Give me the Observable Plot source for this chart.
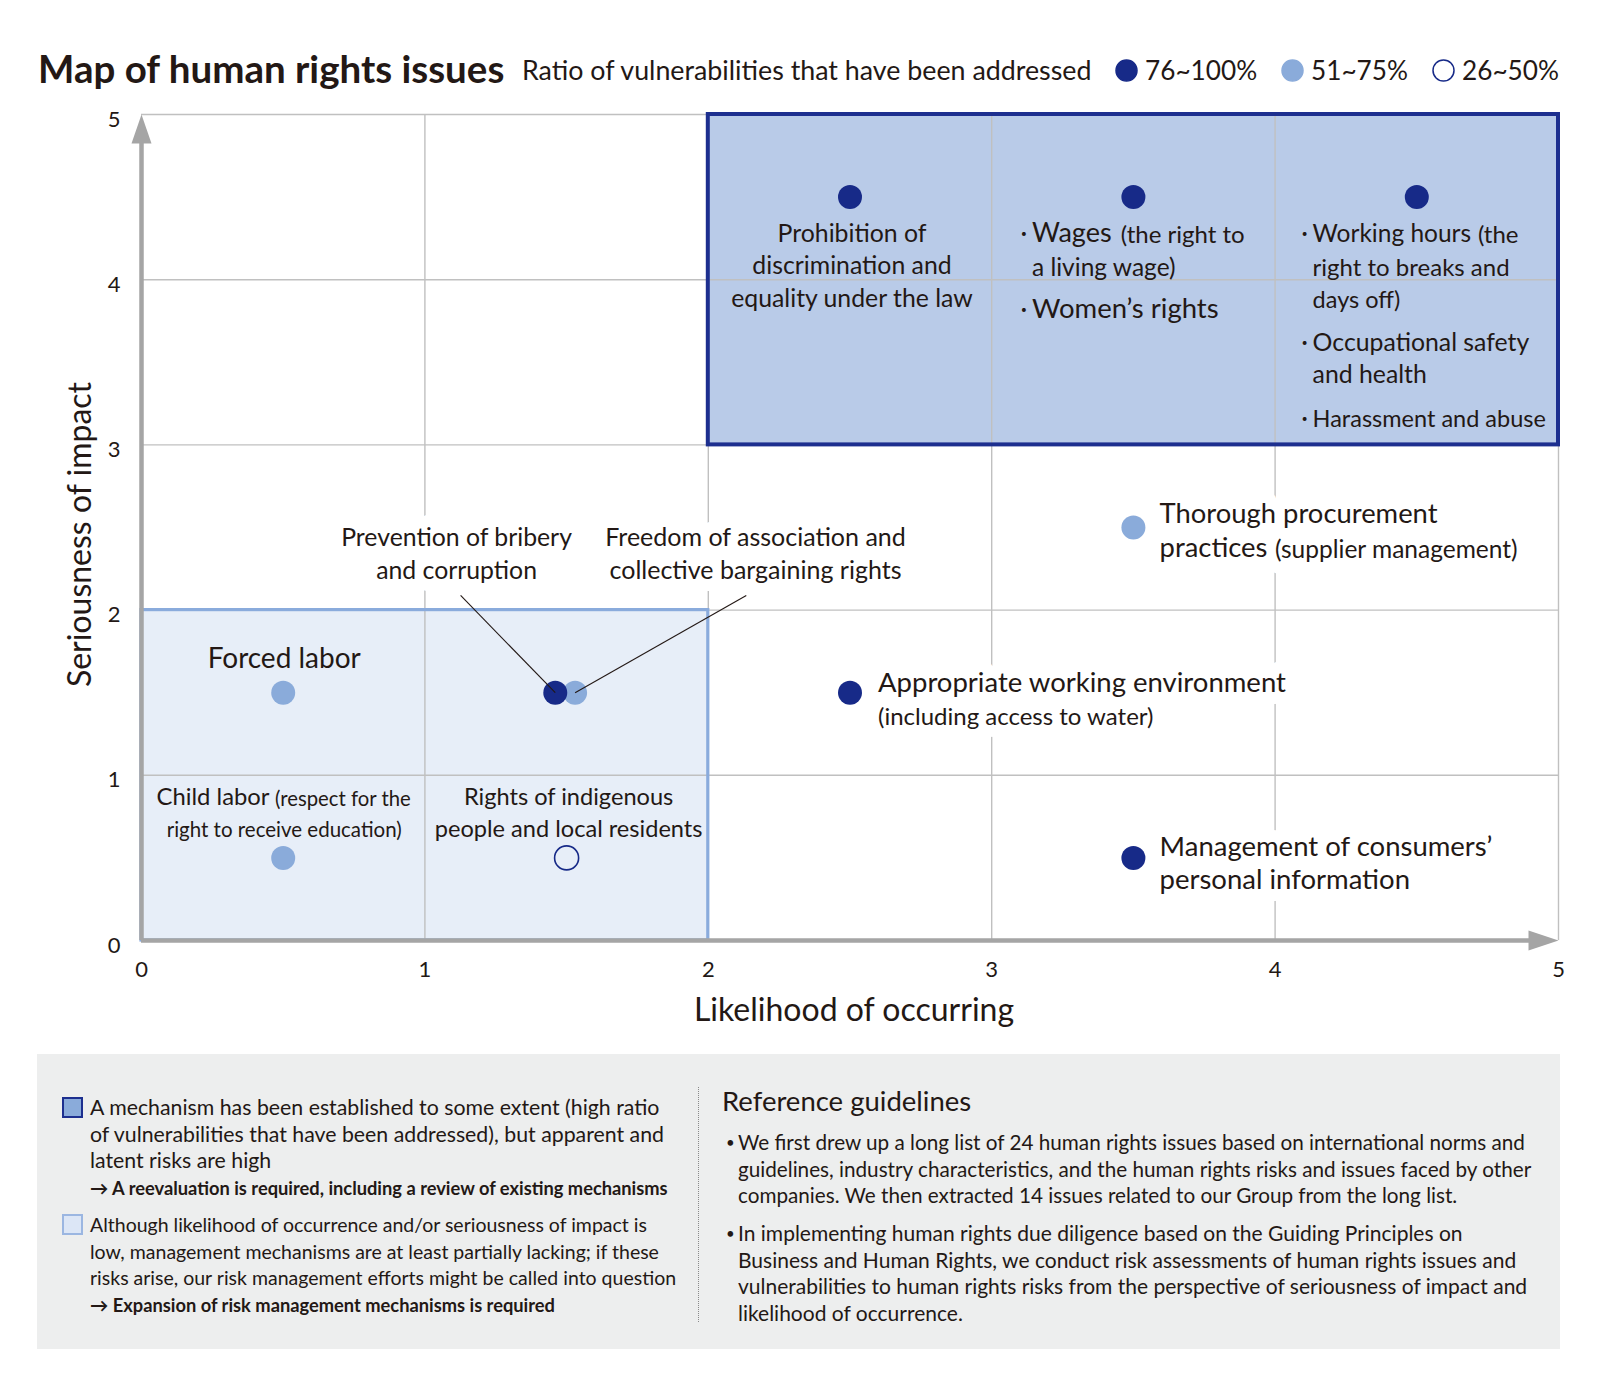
<!DOCTYPE html>
<html>
<head>
<meta charset="utf-8">
<script src="https://cdn.jsdelivr.net/npm/d3@7"></script>
<script src="https://cdn.jsdelivr.net/npm/@observablehq/plot@0.6"></script>
<style>
  html,body{margin:0;padding:0;background:#fff;}
  body{font-family:Lato,"Noto Sans",sans-serif;color:#231815;}
  #page{position:relative;width:1600px;height:1400px;overflow:hidden;}
  .abs{position:absolute;white-space:nowrap;}
  #title{left:38px;top:45px;font-size:38.5px;font-weight:700;line-height:46px;}
  #subtitle{left:522px;top:55px;font-size:26.8px;line-height:30px;}
  .leg{position:absolute;top:55px;height:30px;font-size:26.2px;line-height:30px;white-space:nowrap;display:flex;align-items:center;}
  .leg svg{margin-right:7px;}
  #chart{position:absolute;left:0;top:100px;}
  #panel{position:absolute;left:37px;top:1054px;width:1523px;height:295px;background:#edeeee;}
  .sq{position:absolute;width:17px;height:17px;}
  .ptext{position:absolute;line-height:26.5px;white-space:nowrap;}
  .ptext .arr{font-size:18.3px;font-weight:700;}
  #divider{position:absolute;left:661px;top:33px;height:235px;border-left:1.5px dotted #8a8a8a;}
  #refhead{position:absolute;left:685px;top:32px;font-size:27.5px;line-height:30px;white-space:nowrap;}
  .bul{position:absolute;font-size:15px;line-height:26.5px;}
</style>
</head>
<body>
<div id="page">
  <div id="title" class="abs"></div>
  <div id="subtitle" class="abs"></div>
  <div id="legend"></div>
  <div id="chart"></div>
  <div id="panel">
    <div class="sq" style="left:25px;top:43px;background:#8aabda;border:2.5px solid #1d2f8f;"></div>
    <div class="ptext" style="left:53px;top:40px;font-size:21.3px;">A mechanism has been established to some extent (high ratio<br>of vulnerabilities that have been addressed), but apparent and<br>latent risks are high<br><span class="arr">→ A reevaluation is required, including a review of existing mechanisms</span></div>
    <div class="sq" style="left:25px;top:160px;background:#dce6f6;border:2.5px solid #9bb6e1;"></div>
    <div class="ptext" style="left:53px;top:158px;font-size:19.5px;">Although likelihood of occurrence and/or seriousness of impact is<br>low, management mechanisms are at least partially lacking; if these<br>risks arise, our risk management efforts might be called into question<br><span class="arr">→ Expansion of risk management mechanisms is required</span></div>
    <div id="divider"></div>
    <div id="refhead">Reference guidelines</div>
    <div class="bul" style="left:689px;top:75px;">•</div>
    <div class="ptext" style="left:701px;top:75px;font-size:20.7px;">We first drew up a long list of 24 human rights issues based on international norms and<br>guidelines, industry characteristics, and the human rights risks and issues faced by other<br>companies. We then extracted 14 issues related to our Group from the long list.</div>
    <div class="bul" style="left:689px;top:166px;">•</div>
    <div class="ptext" style="left:701px;top:166px;font-size:21px;">In implementing human rights due diligence based on the Guiding Principles on<br>Business and Human Rights, we conduct risk assessments of human rights issues and<br>vulnerabilities to human rights risks from the perspective of seriousness of impact and<br>likelihood of occurrence.</div>
  </div>
</div>
<script>
// ---------- data ----------
const chartTitle = "Map of human rights issues";
const legendTitle = "Ratio of vulnerabilities that have been addressed";
const ratioLevels = ["76~100%", "51~75%", "26~50%"];

const issueNames = [
  "Prohibition of discrimination and equality under the law",
  "Wages (the right to a living wage) / Women’s rights",
  "Working hours / Occupational safety and health / Harassment and abuse",
  "Thorough procurement practices (supplier management)",
  "Appropriate working environment (including access to water)",
  "Management of consumers’ personal information",
  "Forced labor",
  "Child labor (respect for the right to receive education)",
  "Freedom of association and collective bargaining rights",
  "Prevention of bribery and corruption",
  "Rights of indigenous people and local residents"
];
const likelihood  = [2.5, 3.5, 4.5, 3.5, 2.5, 3.5, 0.5, 0.5, 1.53, 1.46, 1.5];
const seriousness = [4.5, 4.5, 4.5, 2.5, 1.5, 0.5, 1.5, 0.5, 1.5, 1.5, 0.5];
const addressedRatio = ["76~100%", "76~100%", "76~100%", "51~75%", "76~100%", "76~100%",
                        "51~75%", "51~75%", "51~75%", "76~100%", "26~50%"];

const xTicks = [0, 1, 2, 3, 4, 5];
const yTicks = [0, 1, 2, 3, 4, 5];
const xTitle = "Likelihood of occurring";
const yTitle = "Seriousness of impact";

// priority zones: [likelihood from, to], [seriousness from, to]
const zoneX1 = [2, 0];
const zoneX2 = [5, 2];
const zoneY1 = [3, 0];
const zoneY2 = [5, 2];

// ---------- styles ----------
const ink = "#231815";
const navy = "#172a88";
const lightBlue = "#8aabda";
const gridGray = "#c0c0c0";
const axisGray = "#a5a5a5";
const zoneFill = ["#b9cbe8", "#e7eef8"];
const zoneStroke = ["#1d2f8f", "#8aabdc"];
const zoneStrokeWidth = [4, 3.2];
const levelFill = {"76~100%": navy, "51~75%": lightBlue, "26~50%": "none"};
const levelStroke = {"76~100%": "none", "51~75%": "none", "26~50%": navy};

// ---------- header ----------
document.getElementById("title").textContent = chartTitle;
document.getElementById("subtitle").textContent = legendTitle;
const legendLeft = [1115, 1281, 1432];
const legendDiv = document.getElementById("legend");
ratioLevels.forEach((lv, k) => {
  const d = document.createElement("div");
  d.className = "leg";
  d.style.left = legendLeft[k] + "px";
  const f = levelFill[lv] === "none" ? "white" : levelFill[lv];
  const s = levelStroke[lv] === "none" ? f : levelStroke[lv];
  d.innerHTML = `<svg width="23" height="23"><circle cx="11.5" cy="11.5" r="10.5" fill="${f}" stroke="${s}" stroke-width="1.5"/></svg><span>${lv}</span>`;
  legendDiv.appendChild(d);
});

// ---------- label layout (pixel offsets from each dot) ----------
const LH = 32.6;
const pieces = [
  // [issue, text, dx, dy, size, anchor, halo]
  [0, "Prohibition of\ndiscrimination and\nequality under the law", 2, 66.7, 24.8, "middle", false],
  [1, "·", -113, 34, 26, "start", false],
  [1, "Wages", -101.4, 34, 27, "start", false],
  [1, "(the right to", -12.6, 35.5, 24, "start", false],
  [1, "a living wage)", -101.4, 68.2, 24.5, "start", false],
  [1, "·", -113, 110.5, 26, "start", false],
  [1, "Women’s rights", -101.4, 110.5, 27.5, "start", false],
  [2, "·", -115.5, 34, 26, "start", false],
  [2, "Working hours", -104.2, 34, 24.5, "start", false],
  [2, "(the", 61.1, 35.5, 24, "start", false],
  [2, "right to breaks and", -104.2, 68.2, 24, "start", false],
  [2, "days off)", -104.2, 100.8, 23.5, "start", false],
  [2, "·", -115.5, 143.2, 26, "start", false],
  [2, "Occupational safety", -104.2, 143.2, 24.8, "start", false],
  [2, "and health", -104.2, 175.8, 24.8, "start", false],
  [2, "·", -115.5, 219.7, 26, "start", false],
  [2, "Harassment and abuse", -104.2, 219.7, 23.5, "start", false],
  [3, "Thorough procurement", 26.2, -15.1, 27.4, "start", true],
  [3, "practices", 26.2, 18.6, 27.4, "start", true],
  [3, "(supplier management)", 141.5, 20, 24.5, "start", true],
  [4, "Appropriate working environment", 28, -11.6, 27.5, "start", true],
  [4, "(including access to water)", 28, 22.1, 24, "start", true],
  [5, "Management of consumers’", 26.2, -12.5, 27.5, "start", true],
  [5, "personal information", 26.2, 20.2, 27.5, "start", true],
  [6, "Forced labor", 1, -35.1, 28, "middle", false],
  [7, "Child labor", -126.6, -63.5, 23.8, "start", false],
  [7, "(respect for the", 127.5, -62, 20.3, "end", false],
  [7, "right to receive education)", 1, -30.9, 20.5, "middle", false],
  [10, "Rights of indigenous\npeople and local residents", 2, -47.2, 23.6, "middle", false],
  [9, "Prevention of bribery\nand corruption", -98.7, -140.7, 24.8, "middle", true],
  [8, "Freedom of association and\ncollective bargaining rights", 180.4, -140.7, 25, "middle", true]
];
// leader lines (offsets in data units from the dot)
const calloutOffset = {9: [-0.334, 0.589], 8: [0.604, 0.589]};

const idx = d3.range(issueNames.length);
const zones = d3.range(zoneX1.length);
const xMax = xTicks[xTicks.length - 1], yMax = yTicks[yTicks.length - 1];

const marks = [
  Plot.rect(zones, {x1: i => zoneX1[i], x2: i => zoneX2[i], y1: i => zoneY1[i], y2: i => zoneY2[i],
    fill: i => zoneFill[i], inset: 0}),
  Plot.ruleX(xTicks.slice(1), {y1: yTicks[0], y2: yMax, stroke: gridGray, strokeWidth: 1.4}),
  Plot.ruleY(yTicks.slice(1), {x1: xTicks[0], x2: xMax, stroke: gridGray, strokeWidth: 1.4}),
  Plot.rect(zones, {x1: i => zoneX1[i], x2: i => zoneX2[i], y1: i => zoneY1[i], y2: i => zoneY2[i],
    fill: "none", stroke: i => zoneStroke[i], strokeWidth: i => zoneStrokeWidth[i], inset: 0}),
];
// axis lines with arrowheads
marks.push(
  Plot.ruleY([yTicks[0]], {x1: xTicks[0], x2: xMax - 0.05, stroke: axisGray, strokeWidth: 4.5}),
  Plot.ruleX([xTicks[0]], {y1: yTicks[0], y2: yMax - 0.08, stroke: axisGray, strokeWidth: 4.5}),
  Plot.vector([[xMax, yTicks[0]]], {x: d => d[0], y: d => d[1], rotate: 90, length: 30, r: 10,
    anchor: "end", shape: "spike", fill: axisGray, stroke: "none"}),
  Plot.vector([[xTicks[0], yMax]], {x: d => d[0], y: d => d[1], rotate: 0, length: 29, r: 10,
    anchor: "end", shape: "spike", fill: axisGray, stroke: "none"})
);
// label halos first (white knock-out of grid lines), then label texts
const labelOpts = ([i, t, dx, dy, size, anchor]) => ({
  x: k => likelihood[k], y: k => seriousness[k], text: () => t,
  dx, dy, fontSize: size, textAnchor: anchor, lineAnchor: "middle", lineHeight: LH / size
});
for (const p of pieces.filter(p => p[6])) {
  marks.push(Plot.text([p[0]], {...labelOpts(p), fill: "white", stroke: "white", strokeWidth: 24, strokeLinejoin: "round"}));
}
for (const p of pieces) {
  marks.push(Plot.text([p[0]], {...labelOpts(p), fill: ink}));
}
// dots
marks.push(
  Plot.dot(idx, {x: i => likelihood[i], y: i => seriousness[i], r: 12,
    fill: i => levelFill[addressedRatio[i]], stroke: i => levelStroke[addressedRatio[i]], strokeWidth: 1.6})
);
// leader lines
const callouts = Object.keys(calloutOffset).map(Number);
marks.push(
  Plot.link(callouts, {x1: i => likelihood[i], y1: i => seriousness[i],
    x2: i => likelihood[i] + calloutOffset[i][0], y2: i => seriousness[i] + calloutOffset[i][1],
    stroke: ink, strokeWidth: 1.1})
);
// axes
marks.push(
  Plot.axisX(xTicks, {tickSize: 0, tickPadding: 21, fontSize: 22, fill: ink, label: null, tickFormat: d3.format("d")}),
  Plot.axisY(yTicks, {tickSize: 0, tickPadding: 21, dy: 5, fontSize: 22, fill: ink, label: null, tickFormat: d3.format("d")}),
  Plot.text([xTitle], {text: d => d, frameAnchor: "bottom", textAnchor: "middle", lineAnchor: "middle", dx: 4, dy: 70, fontSize: 32, fill: ink}),
  Plot.text([yTitle], {text: d => d, frameAnchor: "left", textAnchor: "middle", lineAnchor: "middle", dx: -61, dy: 7, rotate: -90, fontSize: 32, fill: ink})
);

const chart = Plot.plot({
  width: 1600,
  height: 940,
  marginTop: 14,
  marginBottom: 100,
  marginLeft: 141,
  marginRight: 42,
  x: {domain: [xTicks[0], xMax]},
  y: {domain: [yTicks[0], yMax]},
  style: {fontFamily: "Lato, 'Noto Sans', sans-serif", color: ink, background: "transparent"},
  marks
});
document.getElementById("chart").appendChild(chart);
</script>
</body>
</html>
